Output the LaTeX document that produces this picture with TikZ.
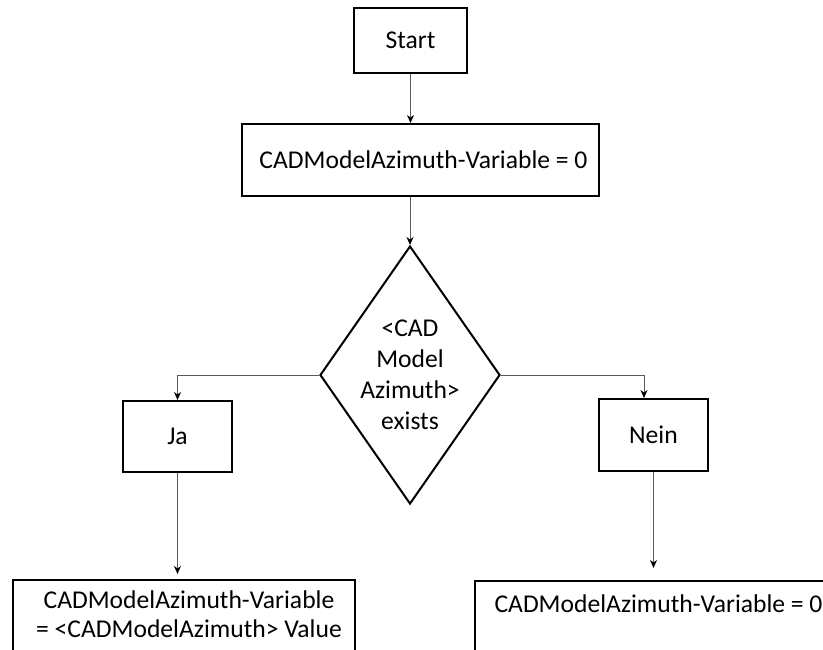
\documentclass[tikz,border=0pt]{standalone}
\usepackage{fontspec}
\setmainfont{Carlito}
\usetikzlibrary{shapes.geometric,arrows.meta}
\begin{document}
\begin{tikzpicture}[x=1pt,y=-1pt,
  box/.style={draw=black,line width=2pt,inner sep=0pt,align=center,
    font=\fontsize{25.6}{30}\selectfont},
  dec/.style={draw=black,line width=2pt,diamond,inner sep=0pt,
    minimum width=180pt,minimum height=258pt},
  conn/.style={draw=black!65,line width=1pt,
    -{Stealth[length=8pt,width=7pt,inset=2.5pt,color=black]}}]
\path[use as bounding box,clip] (0,0) rectangle (823,649);
\fill[white] (0,0) rectangle (823,649);
\node[box,minimum width=113pt,minimum height=65pt] (start) at (410.5,40.5) {Start};
\node[box,minimum width=357pt,minimum height=72pt] (init) at (420.5,160) {\hspace*{6pt}CADModelAzimuth-Variable = 0};
\node[dec,label={[align=center,font=\fontsize{25.6}{31}\selectfont]center:{\textless CAD\\Model\\Azimuth\textgreater\\exists}}] (q) at (410,375) {};
\node[box,minimum width=109pt,minimum height=71pt] (ja) at (177.5,436.5) {Ja};
\node[box,minimum width=109pt,minimum height=72pt] (nein) at (653.5,435) {Nein};
\node[box,minimum width=342pt,minimum height=120pt,anchor=north west] (resL) at (12,579) {};
\node[font=\fontsize{25.6}{29.5}\selectfont,align=center] (resLt) at (189,614) {CADModelAzimuth-Variable\\= \textless CADModelAzimuth\textgreater\ Value};
\node[box,minimum width=400pt,minimum height=120pt,anchor=north west] (resR) at (474,580) {};
\node[font=\fontsize{25.6}{30}\selectfont,anchor=west] (resRt) at (491,604) {CADModelAzimuth-Variable = 0};
\coordinate (neinin) at ([xshift=-9.5pt]nein.north);
\draw[conn] (start.south) -- (start.south |- init.north);
\draw[conn] (q.north |- init.south) -- (q.north);
\draw[conn] (q.west) -| (ja.north);
\draw[conn] (q.east) -| (neinin);
\draw[conn,shorten >=5pt] (ja.south) -- (ja.south |- resL.north);
\draw[conn,shorten >=12pt] (nein.south) -- (nein.south |- resR.north);
\end{tikzpicture}
\end{document}
